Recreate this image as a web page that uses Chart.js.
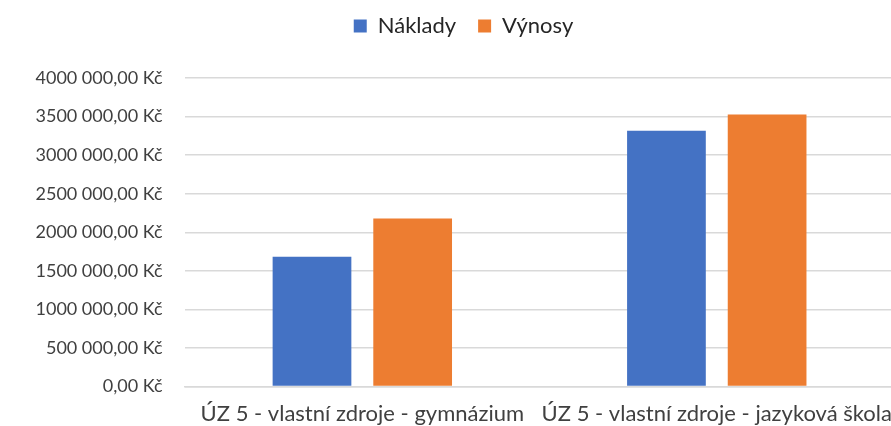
<!DOCTYPE html>
<html>
<head>
<meta charset="utf-8">
<script src="https://cdn.jsdelivr.net/npm/chart.js@4/dist/chart.umd.min.js"></script>
<style>
  html, body { margin: 0; padding: 0; background: #fff; overflow: hidden; }
  #wrap { width: 894px; height: 426px; }
</style>
</head>
<body>
<div id="wrap"><canvas id="costChart"></canvas></div>
<script>
// data
const categories = ['ÚZ 5 - vlastní zdroje - gymnázium', 'ÚZ 5 - vlastní zdroje - jazyková škola'];
const naklady = [1684000, 3317000];
const vynosy = [2178000, 3528000];
const yTickLabels = ['0,00 Kč', '500 000,00 Kč', '1000 000,00 Kč', '1500 000,00 Kč', '2000 000,00 Kč',
                     '2500 000,00 Kč', '3000 000,00 Kč', '3500 000,00 Kč', '4000 000,00 Kč'];

const fontFamily = 'Lato, "Noto Sans", sans-serif';
const textColor = '#404040';

// legend sits a bit right of centre and leaves extra room above the plot
const legendTweak = {
    id: 'legendTweak',
    beforeInit(chart) {
        const legend = chart.legend;
        const origFit = legend.fit;
        legend.fit = function() {
            origFit.call(this);
            this.height += 31;
        };
    },
    afterLayout(chart) {
        chart.legend.left += 10;
        chart.legend.right += 10;
    }
};

new Chart(document.getElementById('costChart').getContext('2d'), {
    type: 'bar',
    data: {
        labels: categories,
        datasets: [{
            label: 'Náklady',
            data: naklady,
            backgroundColor: '#4472c4'
        }, {
            label: 'Výnosy',
            data: vynosy,
            backgroundColor: '#ed7d31'
        }]
    },
    plugins: [legendTweak],
    options: {
        responsive: true,
        maintainAspectRatio: false,
        animation: false,
        categoryPercentage: 0.568,
        barPercentage: 0.782,
        layout: {
            padding: { left: 13, right: 0, top: -7, bottom: -15 }
        },
        plugins: {
            legend: {
                position: 'top',
                labels: {
                    boxWidth: 13,
                    boxHeight: 13,
                    padding: 22,
                    color: '#262626',
                    font: { family: fontFamily, size: 22 }
                }
            },
            tooltip: { enabled: false }
        },
        scales: {
            x: {
                grid: { display: false, drawTicks: false },
                border: { color: '#d9d9d9', width: 1.5 },
                ticks: {
                    padding: 14,
                    maxRotation: 0,
                    autoSkip: false,
                    color: textColor,
                    font: { family: fontFamily, size: 22 }
                },
                // the long last label is allowed to run off the edge, like in the original
                afterFit: function(scale) {
                    scale.paddingLeft = 0;
                    scale.paddingRight = 0;
                }
            },
            y: {
                min: 0,
                max: 4000000,
                grid: { color: '#d9d9d9', lineWidth: 1.5, drawTicks: false },
                border: { display: false },
                ticks: {
                    stepSize: 500000,
                    padding: 22.5,
                    color: textColor,
                    font: { family: fontFamily, size: 18 },
                    callback: function(value) {
                        return yTickLabels[Math.round(value / 500000)];
                    }
                }
            }
        }
    }
});
</script>
</body>
</html>
